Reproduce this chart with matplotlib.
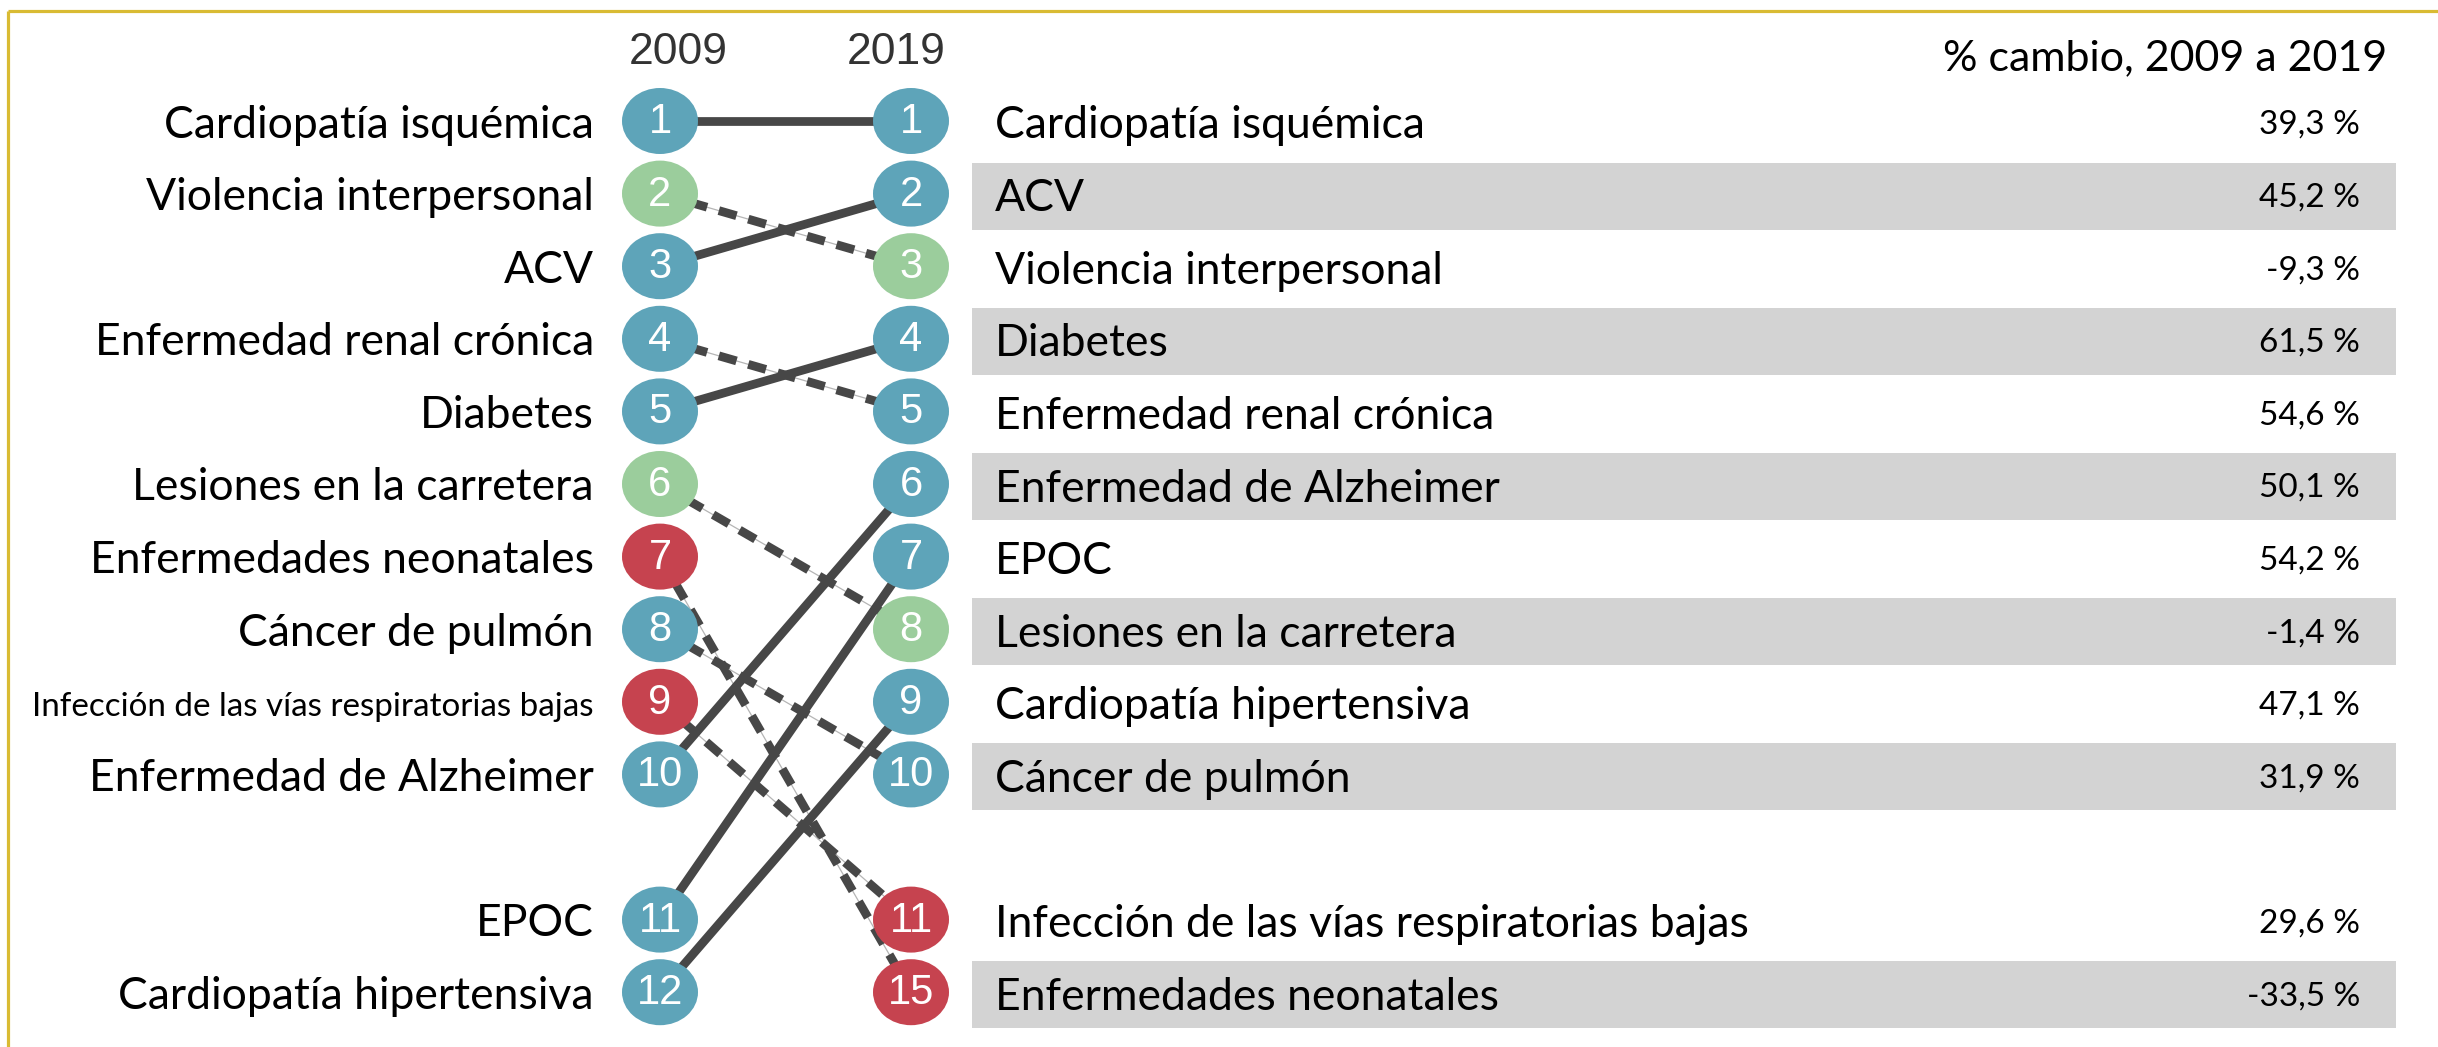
import matplotlib
matplotlib.use('Agg')
import matplotlib.pyplot as plt
from matplotlib import font_manager
from matplotlib.patches import Ellipse, Rectangle

# causes listed in 2009 order
causes = ["Cardiopatía isquémica", "Violencia interpersonal", "ACV",
          "Enfermedad renal crónica", "Diabetes", "Lesiones en la carretera",
          "Enfermedades neonatales", "Cáncer de pulmón",
          "Infección de las vías respiratorias bajas",
          "Enfermedad de Alzheimer", "EPOC", "Cardiopatía hipertensiva"]
rank_2009 = [1, 2, 3, 4, 5, 6, 7, 8, 9, 10, 11, 12]
rank_2019 = [1, 3, 2, 5, 4, 8, 15, 10, 11, 6, 7, 9]
pct_change = [39.3, -9.3, 45.2, 54.6, 61.5, -1.4, -33.5, 31.9, 29.6, 50.1, 54.2, 47.1]
group = ["nt", "les", "nt", "nt", "nt", "les", "tr", "nt", "tr", "nt", "nt", "nt"]
years = ["2009", "2019"]
header = "% cambio, 2009 a 2019"

colors = {"nt": "#5ea4b9", "les": "#9bcd9c", "tr": "#c6434f"}
LINE_C = "#474747"
GOLD = "#d9bb33"

W, H = 2438, 1047
X_LEFT, X_RIGHT = 660, 911
ROW0, STEP = 121, 72.6
LBL_FONT = ["Lato", "DejaVu Sans"]
NUM_FONT = ["Liberation Sans", "DejaVu Sans"]

names = set(f.name for f in font_manager.fontManager.ttflist)
NARROW_FONT = ["Liberation Sans Narrow"] if "Liberation Sans Narrow" in names else LBL_FONT


def slot_y(i):
    # one empty row between the top 10 and the rest
    return ROW0 + STEP * (i + (1 if i >= 10 else 0))


fig = plt.figure(figsize=(W / 100, H / 100), dpi=100)
ax = fig.add_axes([0, 0, 1, 1])
ax.set_xlim(0, W)
ax.set_ylim(H, 0)
ax.axis('off')

# golden frame (top and left)
ax.plot([7.5, W], [11, 11], color=GOLD, lw=2.3, solid_capstyle='butt')
ax.plot([7.5, 7.5], [11, H], color=GOLD, lw=2.3, solid_capstyle='butt')

order_l = sorted(range(len(causes)), key=lambda k: rank_2009[k])
order_r = sorted(range(len(causes)), key=lambda k: rank_2019[k])
pos_l = {k: i for i, k in enumerate(order_l)}
pos_r = {k: i for i, k in enumerate(order_r)}

# year headers
for x, yr in zip([X_LEFT + 18, X_RIGHT - 15], years):
    ax.text(x, 52, yr, ha='center', va='center', fontsize=32,
            family=NUM_FONT, color='#333333')

# connecting lines
for k in range(len(causes)):
    y1, y2 = slot_y(pos_l[k]), slot_y(pos_r[k])
    if rank_2019[k] <= rank_2009[k]:
        ax.plot([X_LEFT, X_RIGHT], [y1, y2], color=LINE_C, lw=6.3,
                solid_capstyle='butt', zorder=2)
    else:
        ax.plot([X_LEFT, X_RIGHT], [y1, y2], color='#b5b5b5', lw=0.9, zorder=2)
        ax.plot([X_LEFT, X_RIGHT], [y1, y2], color=LINE_C, lw=6.3,
                dashes=(2.1, 1.4), dash_capstyle='butt', zorder=2)

# circles with ranks
for k in range(len(causes)):
    for x, pos, rk in [(X_LEFT, pos_l[k], rank_2009[k]), (X_RIGHT, pos_r[k], rank_2019[k])]:
        y = slot_y(pos)
        ax.add_patch(Ellipse((x, y), 76, 66, facecolor=colors[group[k]],
                             edgecolor='none', zorder=3))
        ax.text(x, y + 1, str(rk), ha='center', va='center', fontsize=30,
                family=NUM_FONT, color='white', zorder=4)

# left labels
fit_labels = []
for k in order_l:
    y = slot_y(pos_l[k])
    if len(causes[k]) > 30:
        t = ax.text(594, y + 5, causes[k], ha='right', va='center', fontsize=30,
                    family=NARROW_FONT, color='black')
        fit_labels.append(t)
    else:
        ax.text(594, y + 4, causes[k], ha='right', va='center', fontsize=32,
                family=LBL_FONT, color='black')

# right table
ax.text(2387, 58, header, ha='right', va='center', fontsize=31,
        family=LBL_FONT, color='black')
for j, k in enumerate(order_r):
    y = slot_y(j)
    if j % 2 == 1:
        ax.add_patch(Rectangle((972, y - 31), 1424, 67, facecolor='#d3d3d3',
                               edgecolor='none', zorder=1))
    ax.text(995, y + 5, causes[k], ha='left', va='center', fontsize=32,
            family=LBL_FONT, color='black', zorder=2)
    txt = ("%.1f %%" % pct_change[k]).replace('.', ',')
    ax.text(2360, y + 4, txt, ha='right', va='center', fontsize=24,
            family=LBL_FONT, color='black', zorder=2)

# squeeze the long label into the width it has in the original
fig.canvas.draw()
for t in fit_labels:
    w = t.get_window_extent().width
    t.set_fontsize(t.get_fontsize() * 560 / w)

fig.savefig('out.png', dpi=100, facecolor='white')
